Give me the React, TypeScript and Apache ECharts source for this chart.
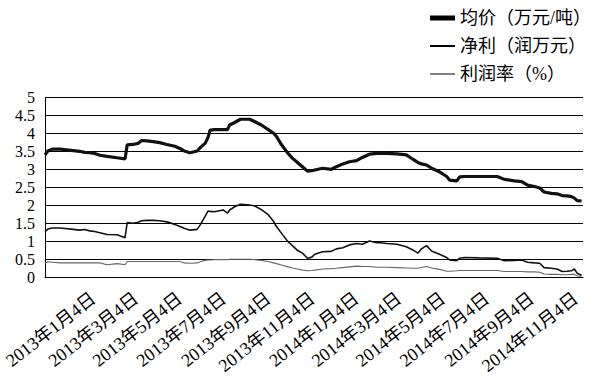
import React, { useEffect, useRef } from 'react';
import * as echarts from 'echarts';

// ---- data ----
const dates = [
  '2012-10-29', '2012-11-02', '2012-11-08', '2012-11-19', '2012-12-07', '2012-12-16', '2012-12-23', '2012-12-30',
  '2013-01-06', '2013-01-13', '2013-01-23', '2013-02-06', '2013-02-17', '2013-02-20', '2013-02-28', '2013-03-07',
  '2013-03-12', '2013-03-19', '2013-03-28', '2013-04-06', '2013-04-16', '2013-04-27', '2013-05-04', '2013-05-10',
  '2013-05-18', '2013-05-28', '2013-06-01', '2013-06-08', '2013-06-12', '2013-06-15', '2013-06-21', '2013-07-03',
  '2013-07-09', '2013-07-12', '2013-07-19', '2013-07-27', '2013-08-09', '2013-08-16', '2013-08-25', '2013-09-03',
  '2013-09-11', '2013-09-15', '2013-09-22', '2013-10-01', '2013-10-07', '2013-10-14', '2013-10-21', '2013-10-28',
  '2013-11-03', '2013-11-07', '2013-11-18', '2013-11-30', '2013-12-07', '2013-12-16', '2013-12-25', '2014-01-04',
  '2014-01-12', '2014-01-22', '2014-02-01', '2014-02-05', '2014-02-15', '2014-03-01', '2014-03-14', '2014-03-23',
  '2014-03-30', '2014-04-04', '2014-04-11', '2014-04-18', '2014-04-29', '2014-05-09', '2014-05-13', '2014-05-23',
  '2014-05-27', '2014-06-03', '2014-06-23', '2014-07-18', '2014-07-28', '2014-08-11', '2014-08-21', '2014-08-29',
  '2014-09-08', '2014-09-15', '2014-09-21', '2014-10-01', '2014-10-09', '2014-10-16', '2014-10-23', '2014-10-29',
  '2014-11-02', '2014-11-06', '2014-11-12',
];

const price = [
  3.40, 3.51, 3.56, 3.56, 3.52, 3.50, 3.47, 3.46,
  3.44, 3.39, 3.36, 3.32, 3.29, 3.68, 3.69, 3.72,
  3.80, 3.79, 3.77, 3.74, 3.69, 3.64, 3.58, 3.51,
  3.46, 3.51, 3.60, 3.72, 3.88, 4.09, 4.10, 4.10,
  4.10, 4.23, 4.30, 4.39, 4.39, 4.32, 4.23, 4.11,
  4.00, 3.91, 3.68, 3.44, 3.31, 3.19, 3.07, 2.95,
  2.96, 2.98, 3.03, 3.00, 3.07, 3.15, 3.21, 3.24,
  3.33, 3.42, 3.44, 3.44, 3.44, 3.43, 3.40, 3.28,
  3.19, 3.15, 3.12, 3.03, 2.93, 2.80, 2.70, 2.68,
  2.79, 2.80, 2.80, 2.80, 2.72, 2.68, 2.66, 2.56,
  2.52, 2.48, 2.37, 2.33, 2.32, 2.27, 2.26, 2.24,
  2.20, 2.13, 2.12,
];

const profit = [
  1.27, 1.34, 1.37, 1.37, 1.33, 1.31, 1.33, 1.29,
  1.27, 1.24, 1.19, 1.18, 1.10, 1.52, 1.50, 1.53,
  1.57, 1.58, 1.58, 1.57, 1.54, 1.47, 1.41, 1.36,
  1.31, 1.33, 1.45, 1.69, 1.84, 1.83, 1.82, 1.87,
  1.78, 1.87, 1.96, 2.03, 2.01, 1.98, 1.88, 1.75,
  1.55, 1.41, 1.22, 0.99, 0.88, 0.75, 0.67, 0.53,
  0.56, 0.64, 0.71, 0.72, 0.79, 0.82, 0.90, 0.94,
  0.92, 1.01, 0.96, 0.96, 0.94, 0.92, 0.85, 0.76,
  0.67, 0.79, 0.88, 0.73, 0.64, 0.55, 0.48, 0.46,
  0.53, 0.55, 0.54, 0.53, 0.46, 0.47, 0.48, 0.42,
  0.40, 0.39, 0.27, 0.25, 0.23, 0.16, 0.17, 0.18,
  0.23, 0.11, 0.06,
];

const rate = [
  0.39, 0.43, 0.42, 0.40, 0.40, 0.40, 0.40, 0.40,
  0.40, 0.40, 0.35, 0.38, 0.35, 0.44, 0.44, 0.44,
  0.44, 0.44, 0.44, 0.44, 0.44, 0.44, 0.44, 0.40,
  0.39, 0.40, 0.43, 0.47, 0.48, 0.48, 0.49, 0.49,
  0.49, 0.50, 0.50, 0.50, 0.50, 0.49, 0.47, 0.44,
  0.40, 0.38, 0.34, 0.29, 0.26, 0.23, 0.20, 0.18,
  0.19, 0.20, 0.23, 0.24, 0.25, 0.27, 0.29, 0.31,
  0.30, 0.30, 0.28, 0.28, 0.28, 0.27, 0.26, 0.25,
  0.25, 0.27, 0.30, 0.26, 0.22, 0.17, 0.17, 0.18,
  0.19, 0.19, 0.19, 0.19, 0.16, 0.16, 0.16, 0.15,
  0.15, 0.14, 0.09, 0.08, 0.08, 0.07, 0.07, 0.08,
  0.08, 0.04, 0.03,
];

const seriesNames = ['均价（万元/吨）', '净利（润万元）', '利润率（%）'];

const xTickDates = [
  '2013-01-04', '2013-03-04', '2013-05-04', '2013-07-04', '2013-09-04', '2013-11-04',
  '2014-01-04', '2014-03-04', '2014-05-04', '2014-07-04', '2014-09-04', '2014-11-04',
];
const xRange = ['2012-10-29', '2014-11-14'];
const yMin = 0;
const yMax = 5;
const yStep = 0.5;

function toTs(s: string): number {
  const [y, m, d] = s.split('-').map(Number);
  return new Date(y, m - 1, d).getTime();
}

const SERIF = 'Liberation Serif, Noto Sans CJK SC, serif';

export default function App() {
  const ref = useRef<HTMLDivElement>(null);

  useEffect(() => {
    if (!ref.current) return;
    const chart = echarts.init(ref.current, undefined, { renderer: 'svg' });
    const pts = (vals: number[]) => dates.map((d, i) => [toTs(d), vals[i]]);

    chart.setOption({
      animation: false,
      backgroundColor: '#fff',
      textStyle: { fontFamily: SERIF },
      grid: { left: 45, right: 13, top: 97.3, bottom: 101.7, containLabel: false },
      legend: {
        orient: 'vertical',
        left: 425,
        top: 4,
        itemWidth: 25,
        itemHeight: 14,
        itemGap: 10,
        textStyle: { fontFamily: SERIF, fontSize: 18, color: '#000', lineHeight: 18 },
        data: [
          { name: seriesNames[0], icon: 'path://M0,0H25V5H0Z', itemStyle: { color: '#000' } },
          { name: seriesNames[1], icon: 'path://M0,0H50V4H0Z', itemStyle: { color: '#000' } },
          { name: seriesNames[2], icon: 'path://M0,0H75V3H0Z', itemStyle: { color: '#000' } },
        ],
      },
      xAxis: {
        type: 'value',
        min: toTs(xRange[0]),
        max: toTs(xRange[1]),
        axisLine: { show: true, lineStyle: { color: '#000', width: 1 } },
        axisTick: { show: false },
        splitLine: { show: false },
        axisLabel: {
          customValues: xTickDates.map(toTs),
          rotate: 38,
          margin: 19,
          fontFamily: SERIF,
          fontSize: 18,
          color: '#000',
          showMinLabel: true,
          showMaxLabel: true,
          hideOverlap: false,
          formatter: (v: number) => {
            const d = new Date(v);
            return `${d.getFullYear()}年${d.getMonth() + 1}月${d.getDate()}日`;
          },
        },
      },
      yAxis: {
        type: 'value',
        min: yMin,
        max: yMax,
        interval: yStep,
        axisLine: { show: true, lineStyle: { color: '#000', width: 1 } },
        axisTick: { show: false },
        splitLine: { show: true, lineStyle: { color: '#000', width: 1 } },
        axisLabel: {
          color: '#000', margin: 10, fontSize: 16, lineHeight: 16, fontFamily: SERIF,
          showMinLabel: true, showMaxLabel: true, hideOverlap: false,
        },
      },
      series: [
        {
          name: seriesNames[0], type: 'line', symbol: 'none', showSymbol: false,
          data: pts(price), lineStyle: { color: '#111', width: 3.2 }, itemStyle: { color: '#000' }, z: 4,
        },
        {
          name: seriesNames[1], type: 'line', symbol: 'none', showSymbol: false,
          data: pts(profit), lineStyle: { color: '#111', width: 1.6 }, itemStyle: { color: '#000' }, z: 3,
        },
        {
          name: seriesNames[2], type: 'line', symbol: 'none', showSymbol: false,
          data: pts(rate), lineStyle: { color: '#666', width: 1.1 }, itemStyle: { color: '#000' }, z: 2,
        },
      ],
    });
    return () => chart.dispose();
  }, []);

  return <div ref={ref} style={{ width: 596, height: 379, position: 'absolute', left: 0, top: 0 }} />;
}
